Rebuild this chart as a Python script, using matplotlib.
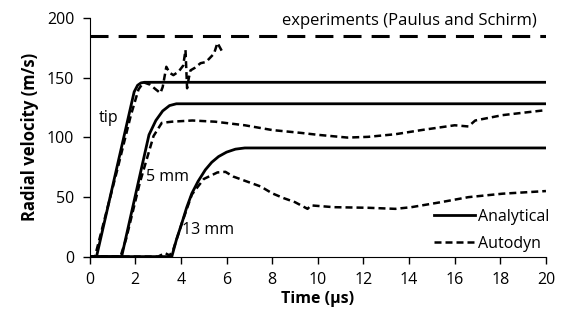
import matplotlib.pyplot as plt

# analytical solutions
t_tip = [0, 0.3, 1.95, 2.1, 2.25, 2.4, 20]
v_tip = [0, 0, 138, 143.5, 145.5, 146, 146]
t_5mm = [0, 1.4, 2.6, 2.9, 3.2, 3.5, 3.8, 20]
v_5mm = [0, 0, 102, 114, 122, 126.5, 128, 128]
t_13mm = [0, 3.6, 3.8, 4.04, 4.25, 4.48, 4.75, 5.07, 5.35, 5.65, 6.0, 6.39, 6.8, 7.2, 20]
v_13mm = [0, 0, 14, 28, 41, 53, 63, 72.7, 79, 83.8, 87.5, 90, 91, 91, 91]

# autodyn simulation
ta_tip = [0, 0.23, 0.5, 1.2, 1.8, 2.14, 2.36, 2.65, 2.9, 3.1, 3.2, 3.36, 3.5, 3.67,
          3.9, 4.1, 4.2, 4.27, 4.35, 4.42, 4.6, 4.86, 5.1, 5.3, 5.45, 5.6, 5.8]
va_tip = [0, 0, 20, 72, 118, 140, 146, 144, 140, 137, 142, 159, 154, 152,
          155, 160, 173, 141, 150, 156, 158, 162, 163, 167, 170, 179, 172]
ta_5mm = [0, 1.35, 1.6, 2.2, 2.8, 3.16, 3.6, 4.5, 5.5, 6.8, 8, 9.27, 10, 11.3,
          12.2, 13.4, 14.55, 16.0, 16.6, 16.9, 18.1, 19, 20]
va_5mm = [0, 0, 15, 62, 101, 112, 113, 114, 113, 110, 106, 103.6, 102, 99.7,
          100.3, 102.5, 106, 110, 109, 114, 118.5, 120.5, 122.7]
ta_13mm = [0, 3.0, 3.3, 3.5, 3.65, 4.04, 4.48, 5.0, 5.6, 5.95, 6.3, 7.5, 8.0, 8.5,
           9.0, 9.55, 9.7, 10.7, 12.2, 13.4, 14.1, 15.4, 16.6, 18.1, 20]
va_13mm = [0, 0, 3, 1, 5, 28, 52, 65, 70.5, 71, 67, 58.7, 53, 49,
           45.6, 40, 42.9, 41.4, 40.9, 40, 41.4, 45.6, 49.8, 52.7, 54.9]

v_exp = 185

plt.rcParams['font.family'] = ['Open Sans', 'DejaVu Sans']
plt.rcParams['font.size'] = 11.5

fig = plt.figure(figsize=(5.64, 3.24), dpi=100)
ax = fig.add_axes([0.159, 0.208, 0.809, 0.737])

lw_s = 2.0
lw_d = 1.8
ax.plot(t_tip, v_tip, color='black', lw=lw_s, label='Analytical')
ax.plot(t_5mm, v_5mm, color='black', lw=lw_s)
ax.plot(t_13mm, v_13mm, color='black', lw=lw_s)
ax.plot(ta_tip, va_tip, color='black', lw=lw_d, dashes=(2.8, 1.6), label='Autodyn')
ax.plot(ta_5mm, va_5mm, color='black', lw=lw_d, dashes=(2.8, 1.6))
ax.plot(ta_13mm, va_13mm, color='black', lw=lw_d, dashes=(2.8, 1.6))
ax.plot([0, 20], [v_exp, v_exp], color='black', lw=2.2, dashes=(5.9, 3.3))

ax.text(19.6, 191, 'experiments (Paulus and Schirm)', ha='right', va='bottom', fontsize=12)
ax.text(0.4, 116, 'tip', ha='left', va='center')
ax.text(2.45, 67, '5 mm', ha='left', va='center')
ax.text(4.05, 22, '13 mm', ha='left', va='center')

ax.set_xlim(0, 20)
ax.set_ylim(0, 200)
ax.set_xticks(range(0, 21, 2))
ax.set_yticks(range(0, 201, 50))
ax.spines['top'].set_visible(False)
ax.spines['right'].set_visible(False)
ax.tick_params(direction='out', length=5, width=1, pad=6)
ax.set_xlabel('Time (µs)', fontweight='bold', fontsize=11.5, labelpad=2)
ax.set_ylabel('Radial velocity (m/s)', fontweight='bold', fontsize=12, labelpad=6)

ax.legend(loc='lower right', bbox_to_anchor=(1.04, -0.04), frameon=False,
          handlelength=2.6, handletextpad=0.2, labelspacing=0.7)

fig.savefig('out.png', dpi=100)
